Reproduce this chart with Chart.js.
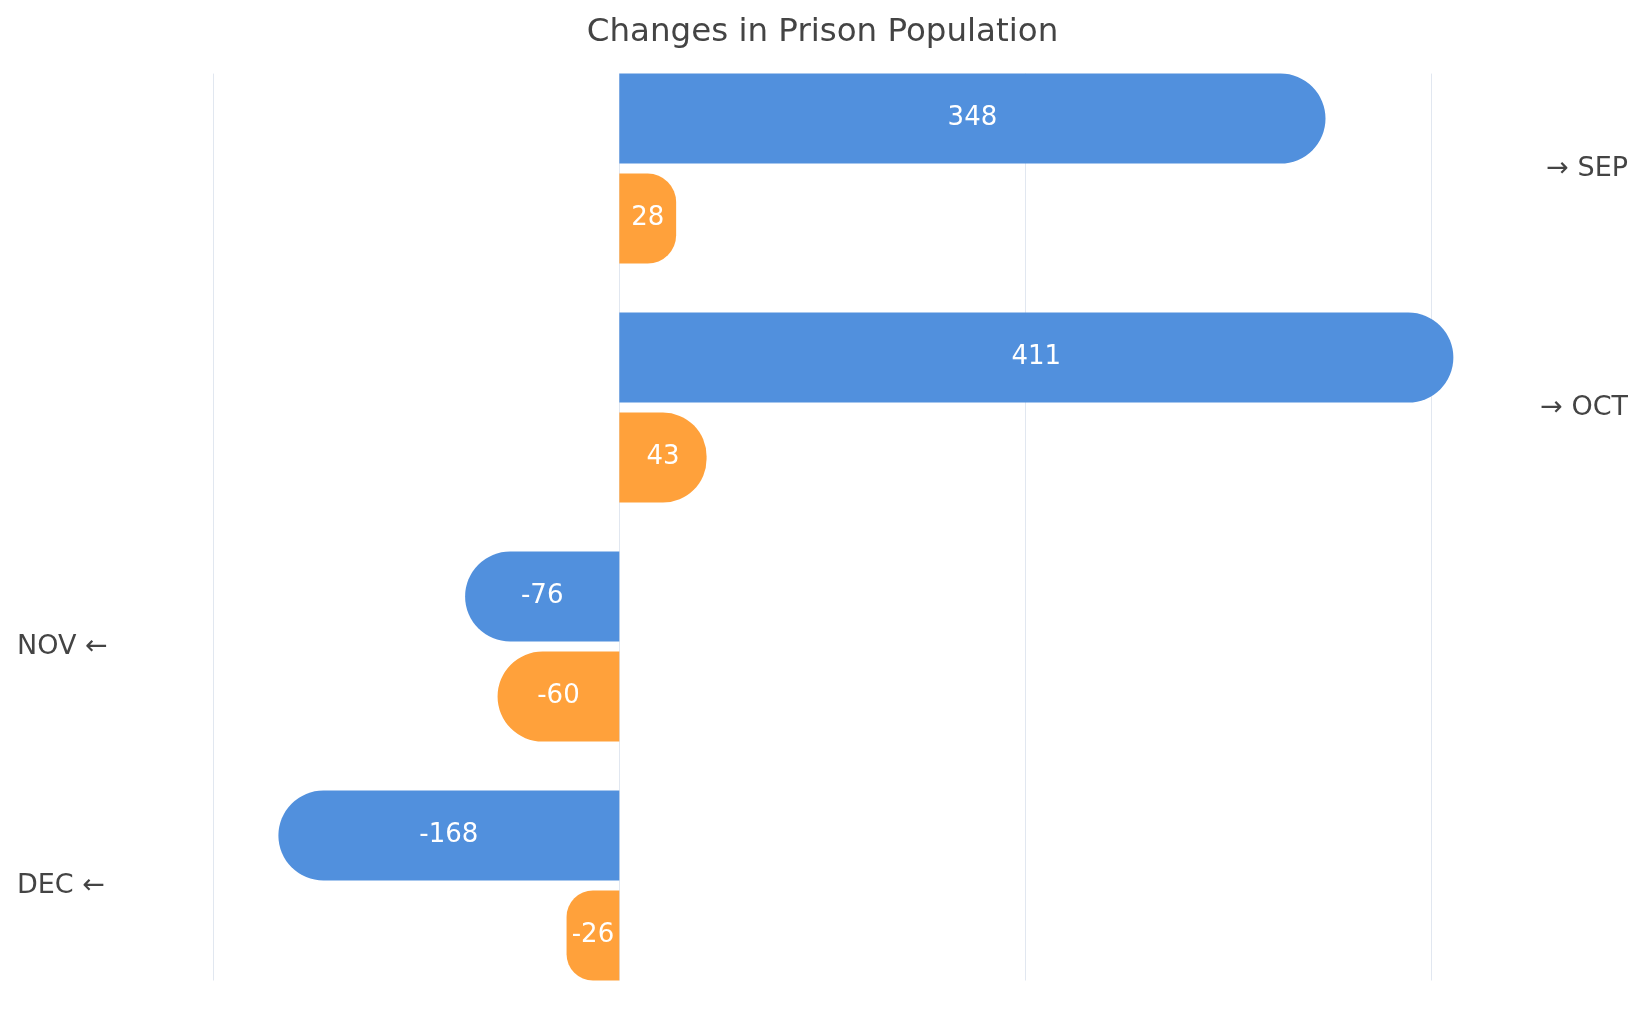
<!DOCTYPE html>
<html>
<head>
<meta charset="utf-8">
<script src="https://cdn.jsdelivr.net/npm/chart.js@4/dist/chart.umd.min.js"></script>
<style>
  html, body { margin: 0; padding: 0; background: #ffffff; }
  #wrap { width: 1652px; height: 1016px; position: relative; }
</style>
</head>
<body>
<div id="wrap"><canvas id="prisonChart"></canvas></div>
<script>
const months = ['SEP', 'OCT', 'NOV', 'DEC'];
const blueValues = [348, 411, -76, -168];
const orangeValues = [28, 43, -60, -26];
const xTicks = [-200, 0, 200, 400];

const textColor = '#444444';
const gridColor = '#e1e7f0';

// which side a month label goes on: positive months on the right, negative on the left
function isPositive(i) {
  return blueValues[i] + orangeValues[i] >= 0;
}

// fixed width for the label columns, and no extra room above/below for the labels
function fitLabelAxis(width) {
  return scale => {
    scale.width = width;
    scale.paddingTop = 0;
    scale.paddingBottom = 0;
  };
}

// vertical grid lines only as tall as the bars themselves
const shortGrid = {
  id: 'shortGrid',
  beforeDatasetsDraw(chart) {
    const xs = chart.scales.x;
    const first = chart.getDatasetMeta(0).data[0];
    const last = chart.getDatasetMeta(1).data[months.length - 1];
    if (!first || !last) return;
    const top = first.y - first.height / 2;
    const bottom = last.y + last.height / 2;
    const ctx = chart.ctx;
    ctx.save();
    ctx.strokeStyle = gridColor;
    ctx.lineWidth = 1;
    xs.ticks.forEach(t => {
      const x = Math.round(xs.getPixelForValue(t.value)) + 0.5;
      ctx.beginPath();
      ctx.moveTo(x, top);
      ctx.lineTo(x, bottom);
      ctx.stroke();
    });
    ctx.restore();
  }
};

// white value text in the middle of each bar
const barValues = {
  id: 'barValues',
  afterDatasetsDraw(chart) {
    const ctx = chart.ctx;
    ctx.save();
    ctx.fillStyle = '#ffffff';
    ctx.font = '26px "DejaVu Sans"';
    ctx.textAlign = 'center';
    ctx.textBaseline = 'middle';
    chart.data.datasets.forEach((ds, di) => {
      chart.getDatasetMeta(di).data.forEach((bar, i) => {
        const p = bar.getCenterPoint();
        ctx.fillText(String(ds.data[i]), p.x, p.y);
      });
    });
    ctx.restore();
  }
};

new Chart(document.getElementById('prisonChart'), {
  type: 'bar',
  data: {
    labels: months,
    datasets: [
      {
        label: 'Change A',
        data: blueValues,
        backgroundColor: '#5190dd',
        borderRadius: 45,
        categoryPercentage: 0.837,
        barPercentage: 0.9
      },
      {
        label: 'Change B',
        data: orangeValues,
        backgroundColor: '#ffa13b',
        borderRadius: 45,
        categoryPercentage: 0.837,
        barPercentage: 0.9
      }
    ]
  },
  options: {
    indexAxis: 'y',
    responsive: true,
    maintainAspectRatio: false,
    animation: false,
    layout: { padding: { top: 0, left: 17, right: 24, bottom: 11 } },
    plugins: {
      legend: { display: false },
      tooltip: { enabled: false },
      title: {
        display: true,
        text: 'Changes in Prison Population',
        color: textColor,
        font: { family: '"DejaVu Sans"', size: 32.5, weight: 'normal', lineHeight: 1.05 },
        padding: { top: 15, bottom: 0 }
      }
    },
    scales: {
      x: {
        display: false,
        min: -250,
        max: 450,
        afterBuildTicks: scale => { scale.ticks = xTicks.map(v => ({ value: v })); }
      },
      y: {
        position: 'left',
        grid: { display: false },
        border: { display: false },
        afterFit: fitLabelAxis(95),
        ticks: {
          crossAlign: 'far',
          color: textColor,
          font: { family: '"DejaVu Sans"', size: 27 },
          callback: (v, i) => isPositive(i) ? '' : months[i] + ' \u2190'
        }
      },
      y2: {
        type: 'category',
        position: 'right',
        grid: { display: false },
        border: { display: false },
        afterFit: fitLabelAxis(95.5),
        ticks: {
          crossAlign: 'far',
          color: textColor,
          font: { family: '"DejaVu Sans"', size: 27 },
          callback: (v, i) => isPositive(i) ? '\u2192 ' + months[i] : ''
        }
      }
    }
  },
  plugins: [shortGrid, barValues]
});
</script>
</body>
</html>
